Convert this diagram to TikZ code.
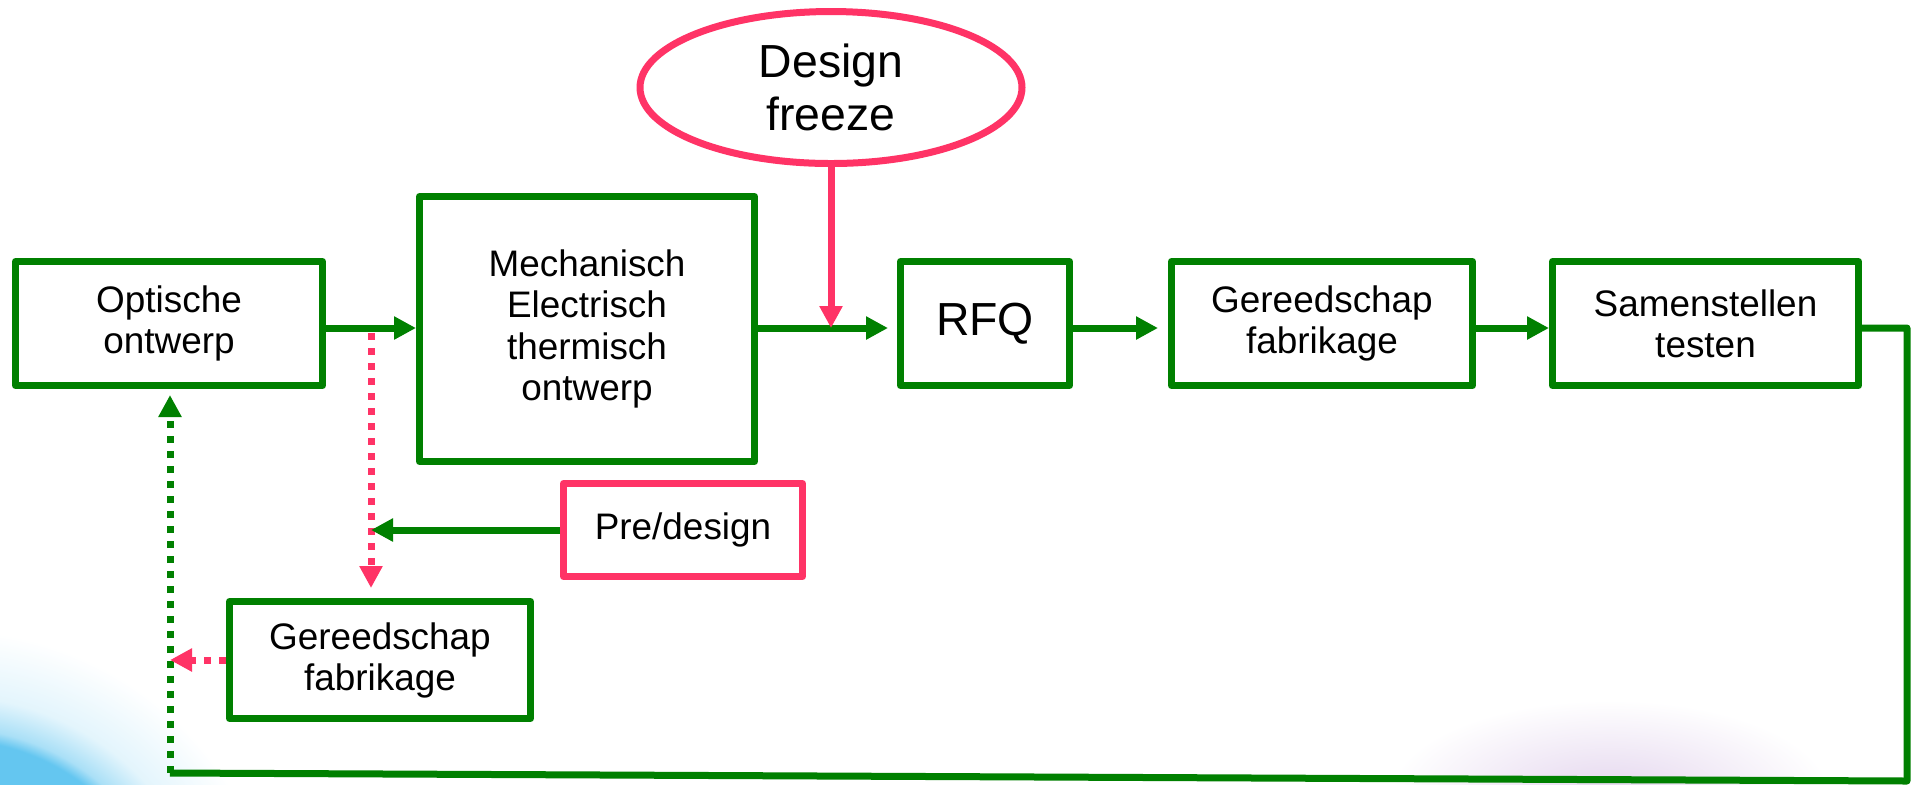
\documentclass[tikz,border=0pt]{standalone}
\usepackage{fontspec}
\setmainfont{Liberation Sans}
\usetikzlibrary{arrows.meta,shapes.geometric}
\definecolor{boxgreen}{RGB}{0,128,0}
\definecolor{freezepink}{RGB}{255,51,102}
\definecolor{glowblue}{RGB}{100,198,240}
\definecolor{glowlilac}{RGB}{228,214,238}
\pgfdeclareradialshading{blueglow}{\pgfpoint{0bp}{0bp}}{color(0bp)=(glowblue); color(16.7bp)=(glowblue); color(17.6bp)=(glowblue!55!white); color(20bp)=(glowblue!18!white); color(25bp)=(white); color(50bp)=(white)}
\begin{document}
\begin{tikzpicture}[
  box/.style={draw=boxgreen, line width=0.07cm, line join=round, fill=white, align=center, inner sep=0pt, font=\fontsize{10.5}{11.7}\selectfont},
  pinkbox/.style={box, draw=freezepink},
  link/.style={draw=boxgreen, line width=0.07cm, line join=round},
  flow/.style={link, -{Triangle[length=0.22cm,width=0.22cm]}},
  pinkflow/.style={flow, draw=freezepink},
  dotflow/.style={flow, dash pattern=on 0.07cm off 0.08cm},
  pinkdot/.style={pinkflow, dash pattern=on 0.07cm off 0.08cm}
]
\useasboundingbox (0,0) rectangle (19.13,-7.84);
\begin{scope}
  \clip (0,0) rectangle (19.13,-7.84);
  \shade[shading=blueglow] (-0.5,-9.6) circle (3.3);
  \shade[inner color=glowlilac, outer color=white] (16.1,-7.95) ellipse (2.2 and 0.95);
\end{scope}

\node[box, minimum width=3.07cm, minimum height=1.24cm] (opt) at (1.69,-3.235) {Optische\\ontwerp};
\node[box, minimum width=3.35cm, minimum height=2.65cm] (mech) at (5.87,-3.29) {Mechanisch\\Electrisch\\thermisch\\ontwerp};
\node[box, minimum width=1.69cm, minimum height=1.24cm, font=\fontsize{13.2}{15}\selectfont] (rfq) at (9.85,-3.235) {RFQ};
\node[box, minimum width=3.01cm, minimum height=1.24cm] (gereed) at (13.22,-3.235) {Gereedschap\\fabrikage};
\node[box, minimum width=3.06cm, minimum height=1.24cm] (samen) at (17.055,-3.235) {Samenstellen\\testen};
\node[pinkbox, ellipse, minimum width=3.82cm, minimum height=1.52cm, font=\fontsize{13.2}{15}\selectfont] (freeze) at (8.31,-0.875) {Design\\freeze};
\node[pinkbox, minimum width=2.39cm, minimum height=0.93cm] (pre) at (6.83,-5.30) {Pre/design};
\node[box, minimum width=3.01cm, minimum height=1.17cm] (gereed2) at (3.80,-6.60) {Gereedschap\\fabrikage};

\coordinate (row) at (0,-3.28);
\coordinate (split) at (3.71,-3.33);
\coordinate (rt) at (19.07,-3.28);
\coordinate (rb) at (19.07,-7.81);
\coordinate (lb) at (1.70,-7.73);

\draw[flow] (opt.east |- row) -- (mech.west |- row);
\draw[flow, shorten >=0.09cm] (mech.east |- row) -- (rfq.west |- row);
\draw[pinkflow] (freeze.south) -- (freeze.south |- row);
\draw[flow, shorten >=0.1cm] (rfq.east |- row) -- (gereed.west |- row);
\draw[flow] (gereed.east |- row) -- (samen.west |- row);
\draw[link] (samen.east |- row) -- (rt) -- (rb) -- (lb);
\draw[dotflow, shorten >=0.06cm] (lb) -- (lb |- opt.south);
\draw[pinkdot, shorten >=0.1cm] (split) -- (split |- gereed2.north);
\draw[flow] (pre.west) -- (split |- pre.west);
\draw[pinkdot] (gereed2.west) -- (lb |- gereed2.west);
\end{tikzpicture}
\end{document}
